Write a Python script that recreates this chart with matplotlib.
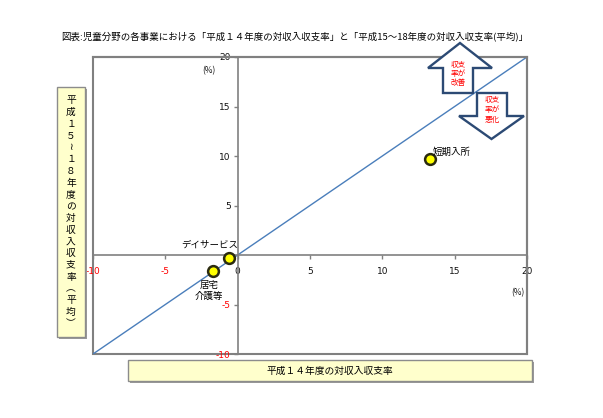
import matplotlib
matplotlib.use("Agg")
import matplotlib.pyplot as plt
from matplotlib.patches import Polygon, Rectangle

plt.rcParams['font.family'] = ['Noto Sans CJK JP', 'DejaVu Sans']

# ---- data ----
names = ["短期入所", "デイサービス", "居宅\n介護等"]
x_h14 = [13.3, -0.6, -1.7]          # 平成14年度の対収入収支率
y_h1518 = [9.7, -0.3, -1.6]         # 平成15～18年度の対収入収支率(平均)
x_ticks = [-10, -5, 0, 5, 10, 15, 20]
y_ticks = [-10, -5, 0, 5, 10, 15, 20]
diag = [-10, 20]

title = "図表:児童分野の各事業における「平成１４年度の対収入収支率」と「平成15～18年度の対収入収支率(平均)」"
xlabel = "平成１４年度の対収入収支率"
ylabel_chars = ["平", "成", "１", "５", "≀", "１", "８", "年", "度", "の", "対", "収", "入",
                "収", "支", "率", "︵", "平", "均", "︶"]

W, H = 603, 418
fig = plt.figure(figsize=(W / 100, H / 100), dpi=100)
fig.patch.set_facecolor("white")

def fx(px):
    return px / W

def fy(py):
    return 1 - py / H

ax = fig.add_axes([fx(93), fy(354), (527 - 93) / W, (354 - 57) / H])
ax.set_xlim(-10, 20)
ax.set_ylim(-10, 20)

grey = "#808080"
for s in ["top", "right"]:
    ax.spines[s].set_color(grey)
    ax.spines[s].set_linewidth(1.5)
ax.spines["left"].set_position(("data", 0))
ax.spines["bottom"].set_position(("data", 0))
for s in ["left", "bottom"]:
    ax.spines[s].set_color(grey)
    ax.spines[s].set_linewidth(1.2)
ax.add_patch(Rectangle((0, 0), 1, 1, transform=ax.transAxes, fill=False,
                       edgecolor=grey, linewidth=1.5, clip_on=False, zorder=0.5))

ax.set_xticks(x_ticks)
ax.set_yticks(y_ticks)
ax.set_xticklabels([str(v) for v in x_ticks])
ax.set_yticklabels(["" if v == 0 else str(v) for v in y_ticks])
ax.tick_params(axis="x", direction="out", length=3, width=1, color=grey,
               labelsize=6.5, pad=6)
ax.tick_params(axis="y", direction="out", length=3, width=1, color=grey,
               labelsize=6.5, pad=2)
for lab, v in zip(ax.get_xticklabels(), x_ticks):
    lab.set_color("#FF0000" if v < 0 else "#111111")
    lab.set_family("DejaVu Sans")
for lab, v in zip(ax.get_yticklabels(), y_ticks):
    lab.set_color("#FF0000" if v < 0 else "#111111")
    lab.set_family("DejaVu Sans")

ax.plot(diag, diag, color="#4A7EBB", linewidth=1.0, zorder=2)
ax.scatter(x_h14, y_h1518, s=60, facecolor="#FFFF00", edgecolor="#2B2B10",
           linewidth=1.8, zorder=3)

# point labels
ax.annotate(names[0], (x_h14[0], y_h1518[0]), xytext=(2, 1.5), textcoords="offset points",
            ha="left", va="bottom", fontsize=6.8, color="#000000")
ax.annotate(names[1], (x_h14[1], y_h1518[1]), xytext=(-14, 6), textcoords="offset points",
            ha="center", va="bottom", fontsize=6.8, color="#000000")
ax.annotate(names[2], (x_h14[2], y_h1518[2]), xytext=(-3, -7), textcoords="offset points",
            ha="center", va="top", fontsize=6.8, color="#000000", linespacing=1.25)

ax.text(-2.0, 18.6, "(%)", ha="center", va="center", fontsize=6, color="#111111")
ax.text(19.4, -3.8, "(%)", ha="center", va="center", fontsize=6, color="#111111")

# title
fig.text(fx(295), fy(36.5), title, ha="center", va="center", fontsize=6.8, color="#000000")

# arrows
navy = "#2C4A74"
up = [(460, 43), (492, 68), (473, 68), (473, 93), (443, 93), (443, 68), (428, 68)]
down = [(477, 93), (507, 93), (507, 116), (524, 116), (491.5, 139), (459, 116), (477, 116)]
for pts in (up, down):
    fig.patches.append(Polygon([(fx(a), fy(b)) for a, b in pts], closed=True,
                               transform=fig.transFigure, facecolor="white",
                               edgecolor=navy, linewidth=1.7, zorder=5))
fig.text(fx(458), fy(74), "収支\n率が\n改善", ha="center", va="center", fontsize=5.5,
         color="#FF0000", linespacing=1.25, zorder=6)
fig.text(fx(492), fy(110), "収支\n率が\n悪化", ha="center", va="center", fontsize=5.5,
         color="#FF0000", linespacing=1.25, zorder=6)

# label boxes
box_fc = "#FFFFCC"
def box(x0, y0, x1, y1):
    fig.patches.append(Rectangle((fx(x0 + 2), fy(y1 + 2)), (x1 - x0) / W, (y1 - y0) / H,
                                 transform=fig.transFigure, facecolor="#9A9A9A",
                                 edgecolor="none", zorder=1))
    fig.patches.append(Rectangle((fx(x0), fy(y1)), (x1 - x0) / W, (y1 - y0) / H,
                                 transform=fig.transFigure, facecolor=box_fc,
                                 edgecolor="#8C8C8C", linewidth=1.0, zorder=2))

box(128, 360, 532, 381)
fig.text(fx(330), fy(370.5), xlabel, ha="center", va="center", fontsize=7, color="#000000")

box(57, 87, 85, 337)
fig.text(fx(71), fy(212), "\n".join(ylabel_chars), ha="center", va="center",
         fontsize=7, color="#000000", linespacing=1.22)

fig.savefig("out.png", dpi=100)
